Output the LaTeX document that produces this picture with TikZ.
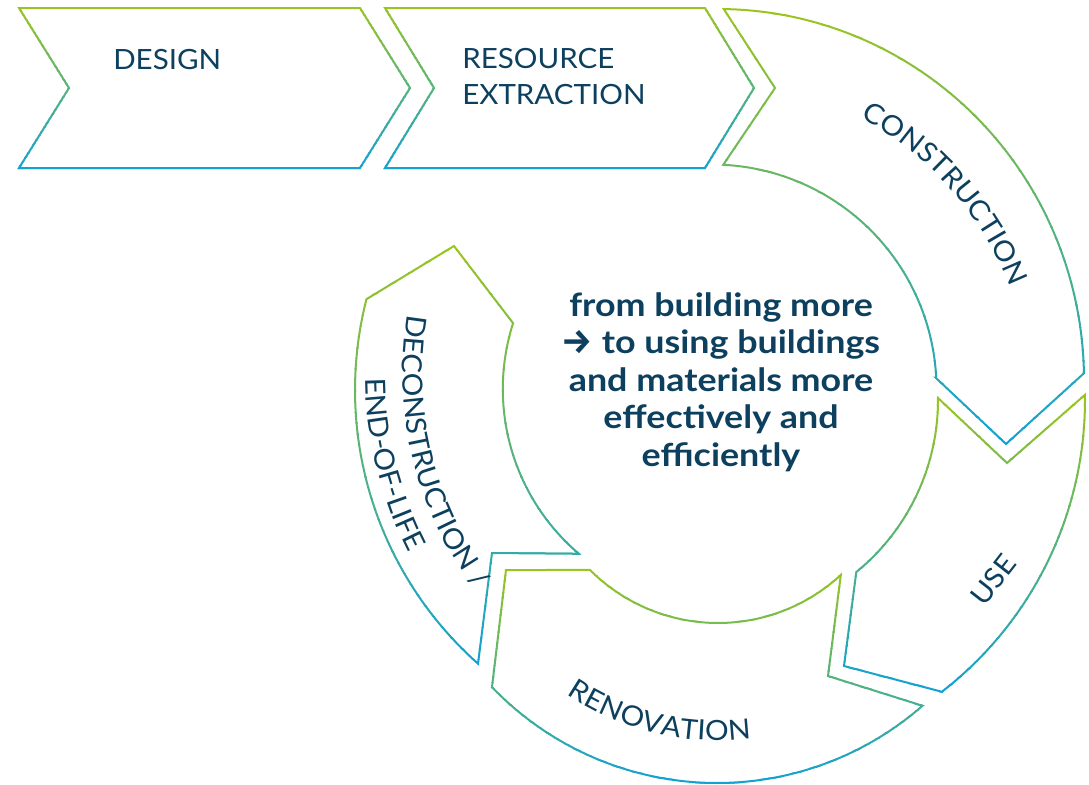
\documentclass[tikz,border=0pt]{standalone}
\usepackage{fontspec}
\usetikzlibrary{decorations.text}
\newfontfamily\labfont{Lato}[FakeStretch=1.06]
\newfontfamily\cenfont{Lato}[FakeStretch=1.12]
\newfontfamily\arrfont{Fira Sans}
\definecolor{gtop}{HTML}{9FC51C}
\definecolor{gbot}{HTML}{0FA1D7}
\definecolor{txt}{HTML}{0C405E}
\tikzset{
  shapeline/.style={line width=1.5pt, line join=miter},
  lab/.style={font=\labfont\fontsize{20.9}{25}\selectfont, text=txt, inner sep=0pt},
  cen/.style={font=\cenfont\bfseries\fontsize{24}{28}\selectfont, text=txt, inner sep=0pt, anchor=base},
}
% gradient stroke: top green -> bottom blue, drawn in horizontal bands
\newcommand{\gradstroke}[3]{%
  \foreach \k in {0,...,39}{%
    \pgfmathsetmacro\ya{(#2-6)+((#3)-(#2)+12)*(\k/40)}%
    \pgfmathsetmacro\yb{(#2-6)+((#3)-(#2)+12)*((\k+1)/40)+0.6}%
    \pgfmathtruncatemacro\pcm{100-100*((\k+0.5)/40)}%
    \begin{scope}
      \clip (-10,\ya) rectangle (1100,\yb);
      \draw[shapeline, draw=gtop!\pcm!gbot] #1;
    \end{scope}
  }%
}
\def\pathDesign{(19,8) -- (360,8) -- (410,88) -- (360,168) -- (19,168) -- (69,88) -- cycle}
\def\pathResource{(385,8) -- (705,8) -- (754,88) -- (705,168) -- (385,168) -- (434,88) -- cycle}
\def\pathConstr{plot[domain=0:1, samples=90] ({718+366*cos(-89.1+88.1*\x)},{380+371*sin(-89.1+88.1*\x)}) -- (1006,444) -- (936,378) -- plot[domain=0:1, samples=70] ({712+224.5*cos(-2.8-84.4*\x)},{389+224.5*sin(-2.8-84.4*\x)}) -- (775,88) -- cycle}
\def\pathUse{(938,398) -- (1007,463) -- plot[domain=0:1, samples=70] ({716+369*cos(-0.8+53.1*\x)},{400+369*sin(-0.8+53.1*\x)}) -- (844,666) -- plot[domain=0:1, samples=60] ({716+222*cos(50.8-51.3*\x)},{400+222*sin(50.8-51.3*\x)}) -- cycle}
\def\pathRenov{(506,570) -- plot[domain=0:1, samples=70] ({718+181*cos(135-87.8*\x)},{442+181*sin(135-87.8*\x)}) -- (828,676) -- plot[domain=0:1, samples=90] ({717+312*cos(48.8+87.4*\x)},{471+312*sin(48.8+87.4*\x)}) -- cycle}
\def\pathDecon{(454,246) -- plot[domain=0:1, samples=70] ({719.4+216.6*cos(197.7-67.3*\x)},{389+216.6*sin(197.7-67.3*\x)}) -- (492,553) -- plot[domain=0:1, samples=90] ({721+366*cos(131.6+62.8*\x)},{390+366*sin(131.6+62.8*\x)}) -- cycle}
\begin{document}
\begin{tikzpicture}[x=0.75pt, y=-0.75pt]
\useasboundingbox (0,0) rectangle (1089,785);
% shapes
\gradstroke{\pathDesign}{8}{168}
\gradstroke{\pathResource}{8}{168}
\gradstroke{\pathConstr}{9}{444}
\gradstroke{\pathUse}{395}{694}
\gradstroke{\pathRenov}{570}{783}
\gradstroke{\pathDecon}{246}{664}
% straight labels
\node[lab, anchor=base west] (design) at (113,69) {DESIGN};
\node[lab, anchor=base west] (res1) at (462,68.5) {RESOURCE};
\node[lab, anchor=base west] (res2) at (462,104.5) {EXTRACTION};
\node[lab, rotate=52] (use) at (993,580) {USE};
% curved labels
\path[decorate, decoration={text along path, text align=center, text color=txt,
  text={|\labfont\fontsize{20.9}{25}\selectfont|CONSTRUCTION}}]
  plot[domain=0:1, samples=150] ({700+334*cos(-101.3+120*\x)},{410+334*sin(-101.3+120*\x)});
\path[decorate, decoration={text along path, text align=center, text color=txt,
  text={|\labfont\fontsize{20.9}{25}\selectfont|DECONSTRUCTION /}}]
  plot[domain=0:1, samples=150] ({758+355.5*cos(226-120*\x)},{374+355.5*sin(226-120*\x)});
\path[decorate, decoration={text along path, text align=center, text color=txt,
  text={|\labfont\fontsize{20.9}{25}\selectfont|END-OF-LIFE}}]
  plot[domain=0:1, samples=150] ({758+392.5*cos(226-120*\x)},{374+392.5*sin(226-120*\x)});
\path[decorate, decoration={text along path, text align=center, text color=txt,
  text={|\labfont\fontsize{20.9}{25}\selectfont|RENOVATION}}]
  plot[domain=0:1, samples=150] ({717+269.5*cos(153.2-100*\x)},{471+269.5*sin(153.2-100*\x)});
% central message
\node[cen] (c1) at (721,316) {from building more};
\node[cen] (c2) at (721,353.6) {{\arrfont\bfseries\fontsize{26}{28}\selectfont →} to using buildings};
\node[cen] (c3) at (721,391.2) {and materials more};
\node[cen] (c4) at (721,428.8) {effectively and};
\node[cen] (c5) at (721,466.4) {efficiently};
\end{tikzpicture}
\end{document}
